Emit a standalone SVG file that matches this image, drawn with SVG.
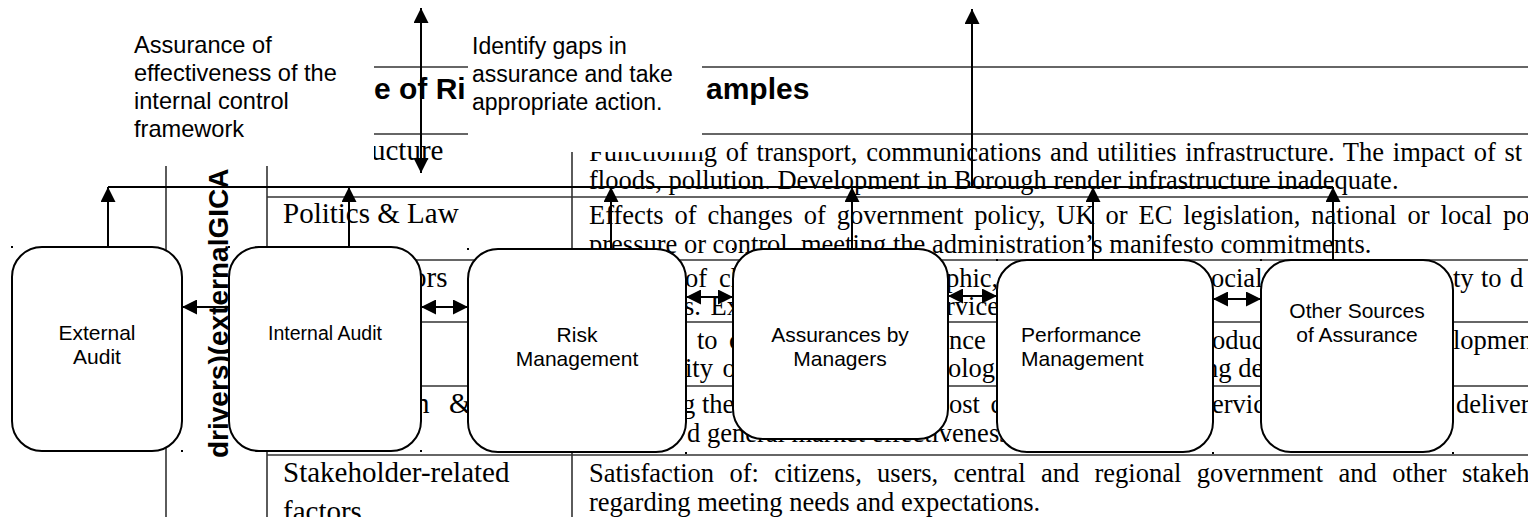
<svg xmlns="http://www.w3.org/2000/svg" width="1528" height="517" viewBox="0 0 1528 517">
<style>
.tbl{stroke:#333;stroke-width:1.6;fill:none}
.t1{font-family:"Liberation Serif","Times New Roman",serif;font-size:29px;fill:#000}
.t2{font-family:"Liberation Serif","Times New Roman",serif;font-size:26.5px;fill:#000}
.hdr{font-family:"Liberation Sans",Arial,sans-serif;font-size:30px;font-weight:bold;fill:#000}
.rot{font-family:"Liberation Sans",Arial,sans-serif;font-size:28px;font-weight:bold;fill:#000}
.ann{font-family:"Liberation Sans",Arial,sans-serif;font-size:23px;fill:#000}
.annl{font-size:23.6px}
.mask{fill:#fff;stroke:none}
.conn{stroke:#000;stroke-width:2;fill:none}
.box{fill:#fff;stroke:#000;stroke-width:2}
.lbl{font-family:"Liberation Sans",Arial,sans-serif;font-size:21px;fill:#000;text-anchor:middle}
.lbls{font-size:19.5px}
.dot{fill:#000}
</style>
<defs>
<marker id="ah" markerUnits="userSpaceOnUse" markerWidth="15" markerHeight="15" viewBox="0 0 15 15" refX="15" refY="7.5" orient="auto-start-reverse">
<path d="M0,0 L15,7.5 L0,15 z" fill="#000"/>
</marker>
</defs>

<g id="table">
<line class="tbl" x1="166" y1="67" x2="1528" y2="67"/>
<line class="tbl" x1="166" y1="134" x2="1528" y2="134"/>
<line class="tbl" x1="267" y1="197" x2="1528" y2="197"/>
<line class="tbl" x1="267" y1="260" x2="1528" y2="260"/>
<line class="tbl" x1="267" y1="322" x2="1528" y2="322"/>
<line class="tbl" x1="267" y1="386" x2="1528" y2="386"/>
<line class="tbl" x1="267" y1="455" x2="1528" y2="455"/>
<line class="tbl" x1="166" y1="67" x2="166" y2="517"/>
<line class="tbl" x1="267" y1="67" x2="267" y2="517"/>
<line class="tbl" x1="572" y1="134" x2="572" y2="517"/>
<text class="hdr" x="374" y="99">e of Ri</text>
<text class="hdr" x="706" y="99">amples</text>
<g class="t1">
<text x="371" y="160">ucture</text>
<text x="283" y="223">Politics &amp; Law</text>
<text x="412" y="287">ors</text>
<text x="415" y="413">n</text>
<text x="449" y="413">&amp;</text>
<text x="283" y="482">Stakeholder-related</text>
<text x="283" y="521">factors</text>
</g>
<g class="t2">
<text x="589" y="161" style="word-spacing:2.1px">Functioning of transport, communications and utilities infrastructure. The impact of st</text>
<text x="589" y="189">floods, pollution. Development in Borough render infrastructure inadequate.</text>
<text x="589" y="224" style="word-spacing:4.3px">Effects of changes of government policy, UK or EC legislation, national or local po</text>
<text x="589" y="253">pressure or control, meeting the administration’s manifesto commitments.</text>
<text x="685" y="287">of</text>
<text x="719" y="287">ch</text>
<text x="946" y="287">phic,</text>
<text x="1211" y="287">ocial</text>
<text x="1453" y="287">ty</text>
<text x="1481" y="287">to</text>
<text x="1510" y="287">d</text>
<text x="684" y="315" style="word-spacing:3px">s. Ex</text>
<text x="946" y="315">rvice</text>
<text x="697" y="349">to</text>
<text x="729" y="349">c</text>
<text x="949" y="349">nce</text>
<text x="1212" y="349">oduc</text>
<text x="1453" y="349">lopmen</text>
<text x="685" y="377" style="word-spacing:3px">ity o</text>
<text x="948" y="377">olog</text>
<text x="1205" y="377">ng de</text>
<text x="682" y="413">g the</text>
<text x="949" y="413" style="word-spacing:4px">ost c</text>
<text x="1212" y="413">ervic</text>
<text x="1456" y="413">deliver</text>
<text x="687" y="442">d general market effectiveness</text>
<text x="589" y="482" style="word-spacing:8.7px">Satisfaction of: citizens, users, central and regional government and other stakeho</text>
<text x="589" y="511">regarding meeting needs and expectations.</text>
</g>
<text class="rot" transform="translate(228,458) rotate(-90)">drivers)(externalGICA</text>
</g>

<g id="note-assurance">
<rect class="mask" x="126" y="26" width="248" height="140"/>
<text class="ann annl" x="134" y="53">Assurance of</text>
<text class="ann annl" x="134" y="81">effectiveness of the</text>
<text class="ann annl" x="134" y="109">internal control</text>
<text class="ann annl" x="134" y="137">framework</text>
</g>
<g id="note-gaps">
<rect class="mask" x="468" y="26" width="234" height="126"/>
<text class="ann" x="472" y="54">Identify gaps in</text>
<text class="ann" x="472" y="82">assurance and take</text>
<text class="ann" x="472" y="110">appropriate action.</text>
</g>

<g id="connectors">
<line class="conn" x1="108" y1="187" x2="1333" y2="187"/>
<line class="conn" x1="108" y1="247" x2="108" y2="187" marker-end="url(#ah)"/>
<line class="conn" x1="349" y1="247" x2="349" y2="187" marker-end="url(#ah)"/>
<line class="conn" x1="611" y1="249" x2="611" y2="187" marker-end="url(#ah)"/>
<line class="conn" x1="852" y1="249" x2="852" y2="187" marker-end="url(#ah)"/>
<line class="conn" x1="1093" y1="260" x2="1093" y2="187" marker-end="url(#ah)"/>
<line class="conn" x1="1333" y1="260" x2="1333" y2="187" marker-end="url(#ah)"/>
<line class="conn" x1="421" y1="173" x2="421" y2="8" marker-start="url(#ah)" marker-end="url(#ah)"/>
<line class="conn" x1="972" y1="187" x2="972" y2="9" marker-end="url(#ah)"/>
<line class="conn" x1="182" y1="307" x2="229" y2="307" marker-start="url(#ah)"/>
<line class="conn" x1="421" y1="307" x2="468" y2="307" marker-start="url(#ah)" marker-end="url(#ah)"/>
<line class="conn" x1="686" y1="297" x2="733" y2="297" marker-start="url(#ah)" marker-end="url(#ah)"/>
<line class="conn" x1="948" y1="296" x2="997" y2="296" marker-start="url(#ah)" marker-end="url(#ah)"/>
<line class="conn" x1="1213" y1="299" x2="1261" y2="299" marker-start="url(#ah)" marker-end="url(#ah)"/>
</g>

<g id="node-external-audit">
<rect class="box" x="12" y="247" width="170" height="204" rx="30"/>
<text class="lbl" x="97" y="340">External</text>
<text class="lbl" x="97" y="364">Audit</text>
</g>
<g id="node-internal-audit">
<rect class="box" x="229" y="247" width="192" height="204" rx="30"/>
<text class="lbl lbls" x="325" y="340">Internal Audit</text>
</g>
<g id="node-risk-management">
<rect class="box" x="468" y="249" width="218" height="203" rx="30"/>
<text class="lbl" x="577" y="342">Risk</text>
<text class="lbl" x="577" y="366">Management</text>
</g>
<g id="node-assurances-by-managers">
<rect class="box" x="733" y="249" width="215" height="190" rx="30"/>
<text class="lbl" x="840" y="342">Assurances by</text>
<text class="lbl" x="840" y="366">Managers</text>
</g>
<g id="node-performance-management">
<rect class="box" x="997" y="260" width="216" height="192" rx="30"/>
<text class="lbl" x="1021" y="342" style="text-anchor:start">Performance</text>
<text class="lbl" x="1021" y="366" style="text-anchor:start">Management</text>
</g>
<g id="node-other-sources">
<rect class="box" x="1261" y="260" width="192" height="192" rx="30"/>
<text class="lbl" x="1357" y="318">Other Sources</text>
<text class="lbl" x="1357" y="342">of Assurance</text>
</g>

<g id="corner-marks" class="dot">
<rect x="11" y="246" width="2" height="2"/>
<rect x="181" y="450" width="2" height="2"/>
<rect x="228" y="246" width="2" height="2"/>
<rect x="420" y="450" width="2" height="2"/>
<rect x="467" y="248" width="2" height="2"/>
<rect x="685" y="452" width="2" height="2"/>
<rect x="732" y="248" width="2" height="2"/>
<rect x="947" y="439" width="2" height="2"/>
<rect x="996" y="259" width="2" height="2"/>
<rect x="1212" y="452" width="2" height="2"/>
<rect x="1260" y="259" width="2" height="2"/>
<rect x="1452" y="452" width="2" height="2"/>
</g>
</svg>
